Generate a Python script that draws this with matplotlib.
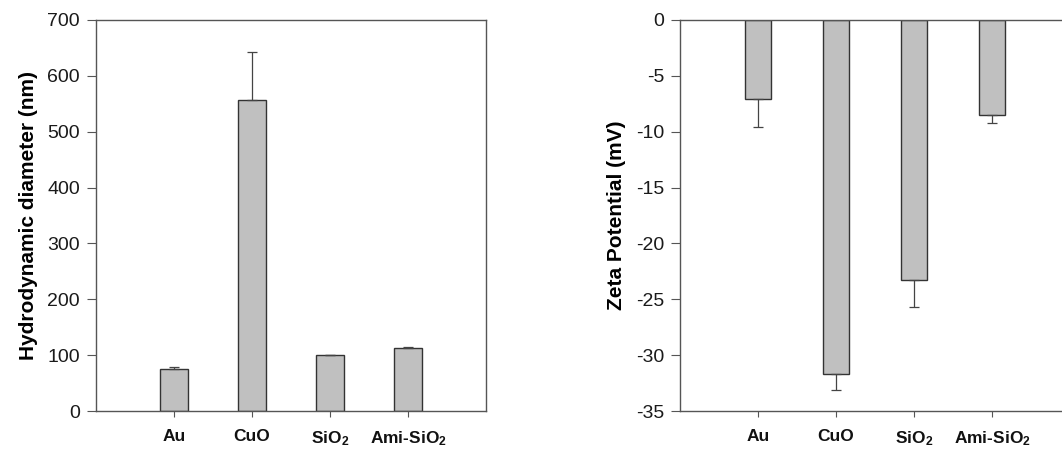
import matplotlib
matplotlib.use('Agg')
import matplotlib.pyplot as plt

plt.rcParams['font.family'] = ['Liberation Sans', 'DejaVu Sans']
plt.rcParams['mathtext.fontset'] = 'custom'
plt.rcParams['mathtext.rm'] = 'Liberation Sans:bold'
plt.rcParams['mathtext.bf'] = 'Liberation Sans:bold'
plt.rcParams['mathtext.default'] = 'bf'
plt.rcParams['axes.unicode_minus'] = False

# данные
categories = ['Au', 'CuO', 'SiO$_2$', 'Ami-SiO$_2$']
diameter = [76, 557, 100, 113]
diameter_err = [2, 86, 1, 1]
zeta = [-7.1, -31.7, -23.3, -8.5]
zeta_err = [2.5, 1.4, 2.4, 0.7]

positions = [1, 2, 3, 4]
bar_color = '#c0c0c0'
edge_color = '#333333'
spine_color = '#555555'

fig = plt.figure(figsize=[10.62, 4.5], dpi=100)
ax1 = fig.add_axes([96 / 1062, 39 / 450, 390 / 1062, 391 / 450])
ax2 = fig.add_axes([680 / 1062, 39 / 450, 390 / 1062, 391 / 450])


def style_axis(ax):
    for s in ax.spines.values():
        s.set_color(spine_color)
        s.set_linewidth(1.0)
    ax.tick_params(axis='y', direction='out', length=6.5, width=0.8,
                   colors=spine_color, labelcolor='#1a1a1a', labelsize=14, pad=5)
    ax.tick_params(axis='x', direction='out', length=4, width=0.8,
                   colors=spine_color, labelcolor='#111111', labelsize=12.5, pad=9)
    ax.set_xlim(0, 5)
    ax.set_xticks(positions)
    ax.set_xticklabels(categories, fontweight='bold')


# левый график: гидродинамический диаметр
ax1.bar(positions, diameter, width=0.37, color=bar_color, edgecolor=edge_color, linewidth=1.0,
        yerr=[[0] * 4, diameter_err], capsize=3.6,
        error_kw={'ecolor': '#444444', 'elinewidth': 0.9, 'capthick': 0.9})
style_axis(ax1)
ax1.set_ylim(0, 700)
ax1.set_yticks(range(0, 701, 100))
ax1.set_ylabel('Hydrodynamic diameter (nm)', fontsize=15, fontweight='bold', labelpad=7)

# правый график: дзета-потенциал
ax2.bar(positions, zeta, width=0.34, color=bar_color, edgecolor=edge_color, linewidth=1.0,
        yerr=[zeta_err, [0] * 4], capsize=3.6,
        error_kw={'ecolor': '#444444', 'elinewidth': 0.9, 'capthick': 0.9})
style_axis(ax2)
ax2.set_ylim(-35, 0)
ax2.set_yticks(range(-35, 1, 5))
ax2.set_ylabel('Zeta Potential (mV)', fontsize=15, fontweight='bold', labelpad=7)

plt.savefig('out.png', dpi=100)
